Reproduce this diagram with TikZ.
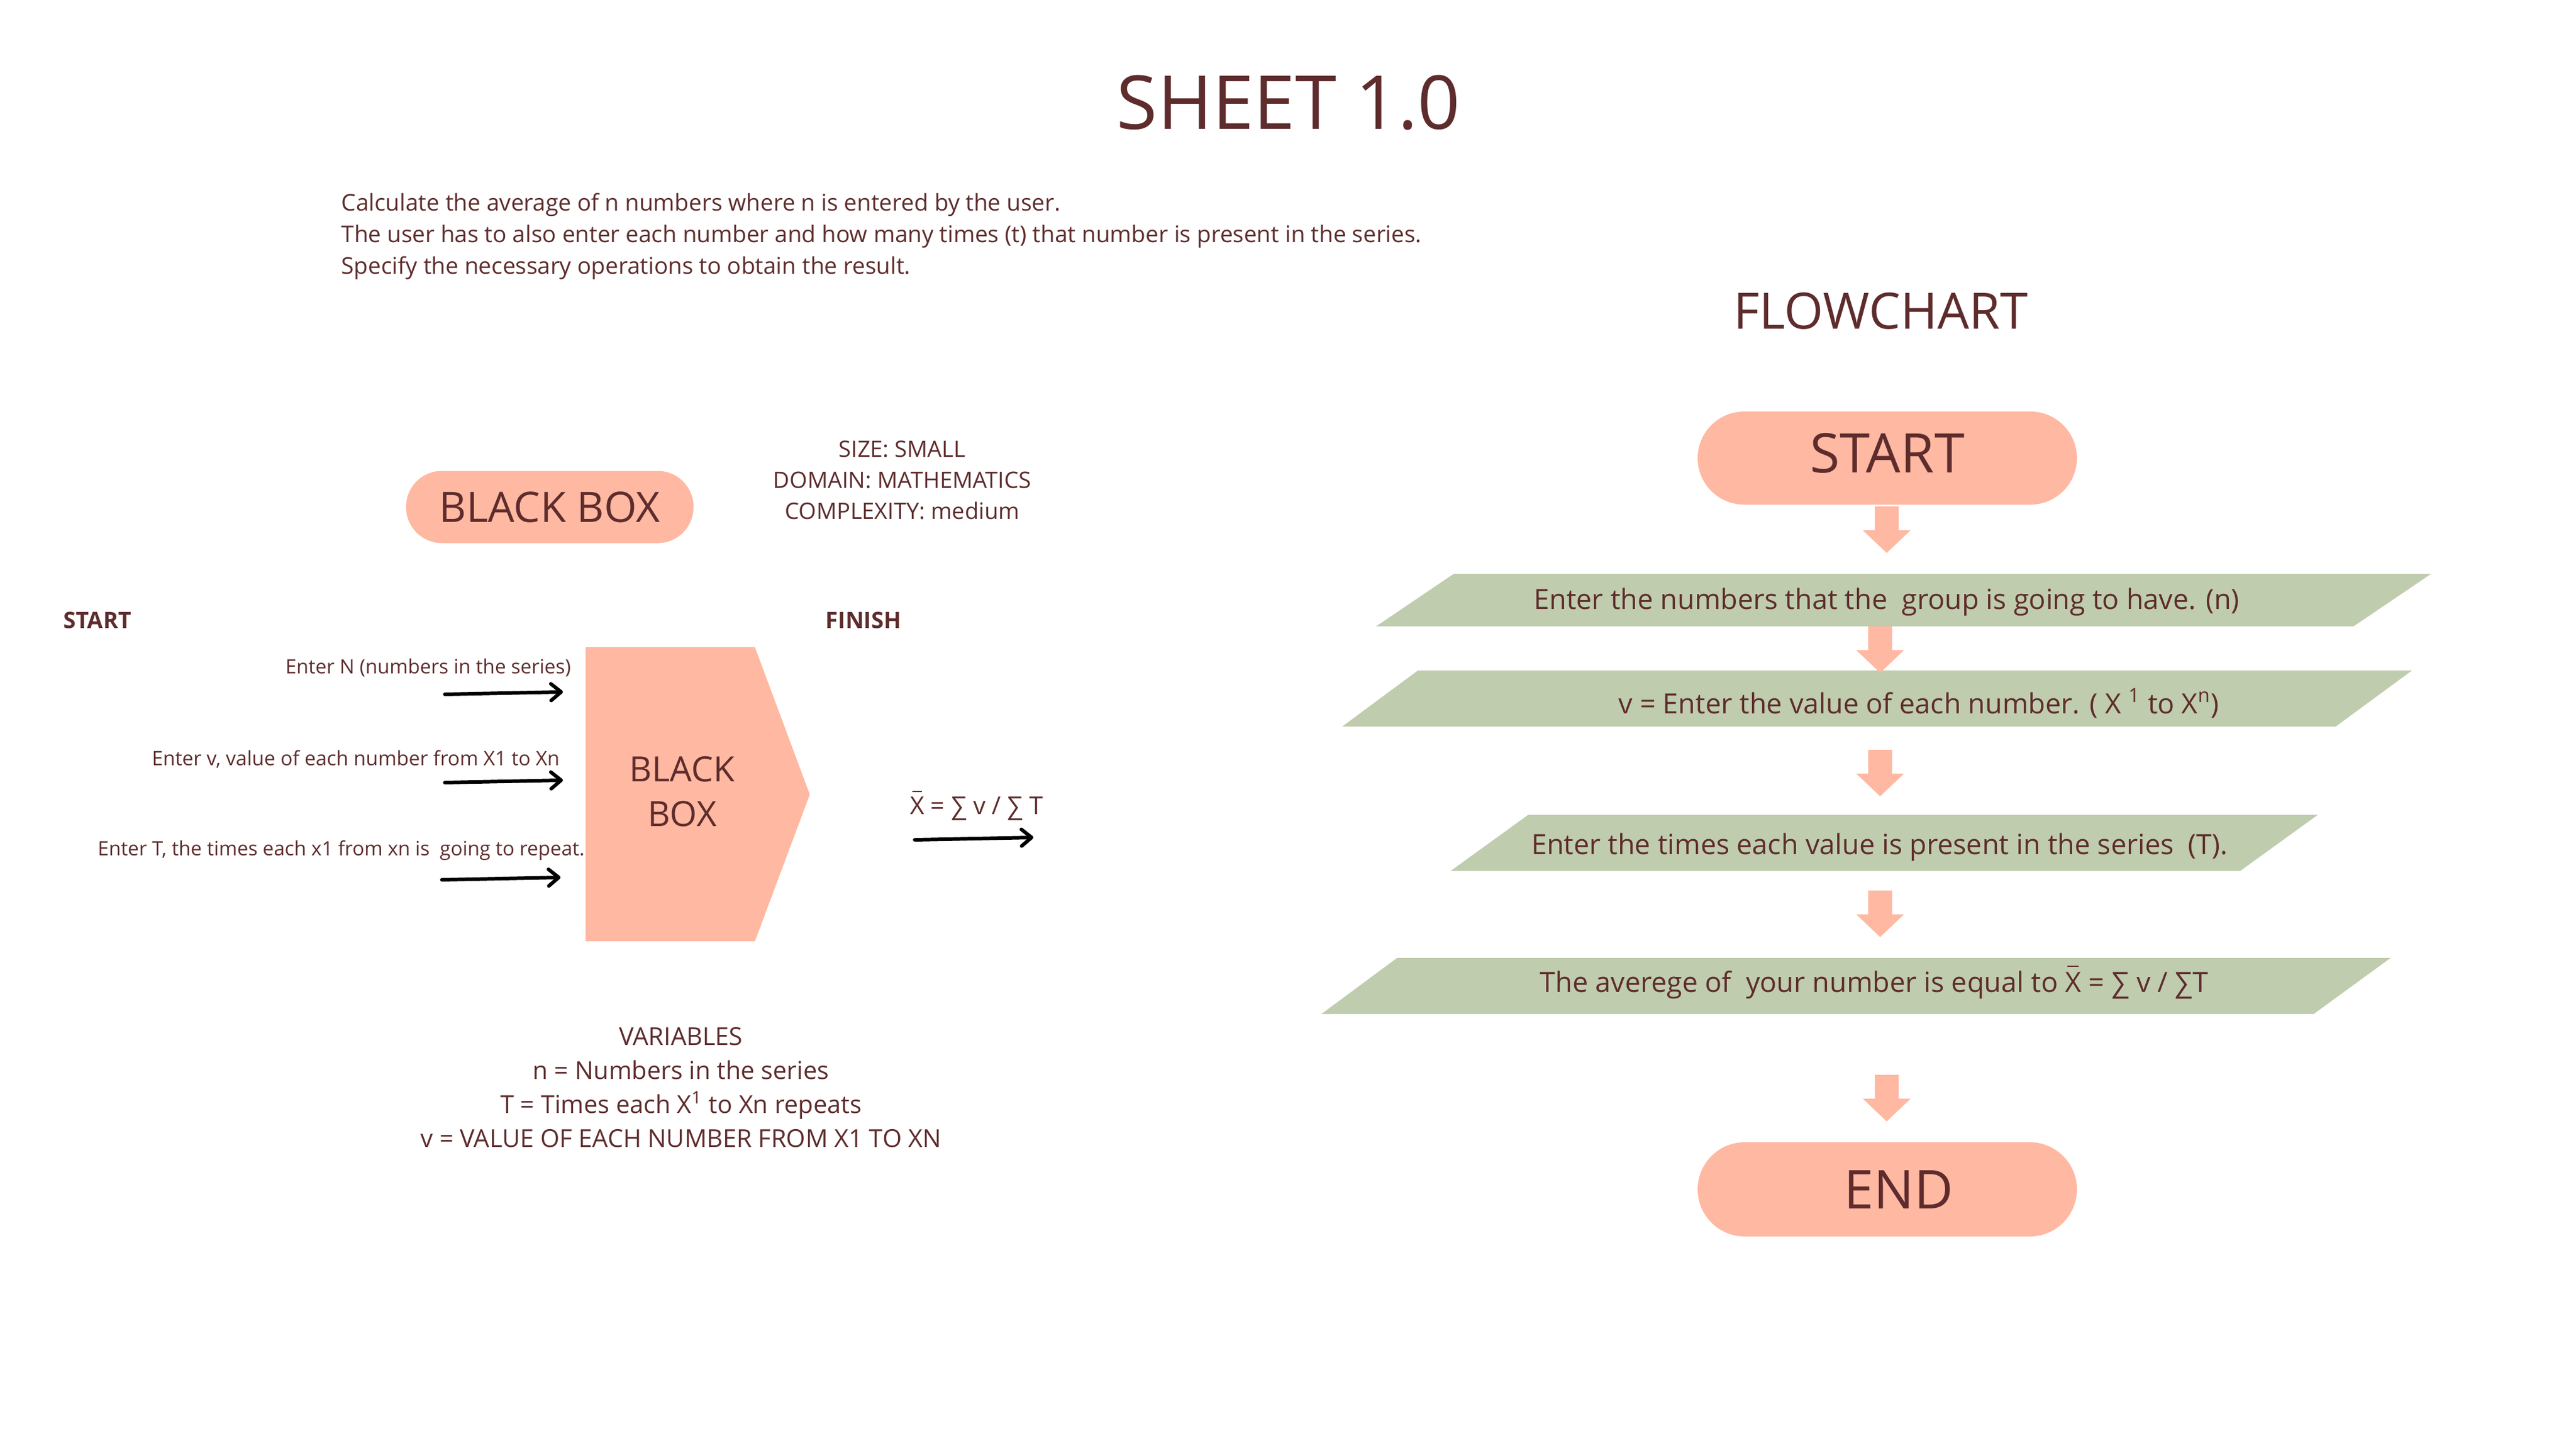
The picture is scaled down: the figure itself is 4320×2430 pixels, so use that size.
\documentclass[tikz,border=0pt]{standalone}
\usepackage{fontspec}
\setmainfont{Open Sans}
\definecolor{sheettext}{RGB}{94, 44, 44}
\definecolor{sheetsalmon}{RGB}{255, 184, 162}
\definecolor{sheetgreen}{RGB}{191, 204, 173}
\usetikzlibrary{arrows.meta,positioning}
\newcommand{\xbar}{\makebox[0pt][l]{\hspace{0.08em}\rule[0.9em]{0.4em}{0.05em}}X}

\tikzset{
    lbl/.style={text=sheettext, inner sep=0pt},
    pill/.style={fill=sheetsalmon, text=sheettext, inner sep=0pt},
    fatarrow/.pic={\fill[sheetsalmon] (-20,0) -- (20,0) -- (20,40) -- (40,40) -- (0,78) -- (-40,40) -- (-20,40) -- cycle;},
    inarrow/.style={-{Straight Barb[length=1.7mm,width=2.8mm,round]}, line width=1.7pt, line cap=round}
}

\begin{document}
\begin{tikzpicture}[x=0.1mm, y=-0.1mm]
    \fill[white] (0,0) rectangle (4320,2430);
    \useasboundingbox (0,0) rectangle (4320,2430);

    % title and task
    \node[lbl, anchor=base, font=\fontsize{35.5}{36}\selectfont] (title) at (2161,216) {SHEET 1.0};
    \foreach \line [count=\i] in {Calculate the average of n numbers where n is entered by the user.,
        The user has to also enter each number and how many times (t) that number is present in the series.,
        Specify the necessary operations to obtain the result.}
        \node[lbl, anchor=base west, font=\fontsize{11}{13}\selectfont] (task-\i) at (572,353+53*\i-53) {\line};

    % black box side
    \node[pill, minimum width=48.2mm, minimum height=12.1mm, rounded corners=6mm,
        font=\fontsize{20}{20}\selectfont] (bbtitle) at (922,850) {BLACK BOX};
    \foreach \line [count=\i] in {SIZE: SMALL, DOMAIN: MATHEMATICS, COMPLEXITY: medium}
        \node[lbl, anchor=base, font=\fontsize{10.8}{12}\selectfont] (info-\i) at (1513,766+52*\i-52) {\line};

    \node[lbl, anchor=base west, font=\fontsize{10.8}{12}\selectfont\bfseries] (bbstart) at (106,1053) {START};
    \node[lbl, anchor=base west, font=\fontsize{10.8}{12}\selectfont\bfseries] (bbfinish) at (1384,1053) {FINISH};

    \fill[sheetsalmon] (982,1085) -- (1266,1085) -- (1358,1332) -- (1266,1578) -- (982,1578) -- cycle;
    \node[lbl, align=center, font=\fontsize{16.6}{21.5}\selectfont] (bb) at (1144,1327) {BLACK\\BOX};

    \node[lbl, anchor=base east, font=\fontsize{9.4}{11}\selectfont] (in1) at (958,1129) {Enter N (numbers in the series)};
    \node[lbl, anchor=base east, font=\fontsize{9.5}{11}\selectfont] (in2) at (939,1283) {Enter v, value of each number from X1 to Xn};
    \node[lbl, anchor=base east, font=\fontsize{9.4}{11}\selectfont] (in3) at (981,1434) {Enter T, the times each x1 from xn is~ going to repeat.};
    \node[lbl, anchor=base, font=\fontsize{11.8}{12}\selectfont] (result) at (1638,1365) {\xbar{} = ∑ v / ∑ T};

    \coordinate (in1a) at (746,1164);  \coordinate (in1b) at (944,1160);
    \coordinate (in2a) at (746,1312);  \coordinate (in2b) at (944,1308);
    \coordinate (in3a) at (741,1475);  \coordinate (in3b) at (940,1471);
    \coordinate (outa) at (1534,1408); \coordinate (outb) at (1733,1404);
    \draw[inarrow] (in1a) -- (in1b);
    \draw[inarrow] (in2a) -- (in2b);
    \draw[inarrow] (in3a) -- (in3b);
    \draw[inarrow] (outa) -- (outb);

    \foreach \line [count=\i] in {VARIABLES, n = Numbers in the series,
        T = Times each X\textsuperscript{1} to Xn repeats, v = VALUE OF EACH NUMBER FROM X1 TO XN}
        \node[lbl, anchor=base, font=\fontsize{11.8}{13}\selectfont] (var-\i) at (1142,1752+57*\i-57) {\line};

    % flowchart side
    \node[lbl, anchor=base, font=\fontsize{23.9}{24}\selectfont] (fctitle) at (3154,551) {FLOWCHART};
    \node[pill, minimum width=63.6mm, minimum height=15.6mm, rounded corners=7.8mm] (start) at (3165,768) {};
    \node[lbl, font=\fontsize{26}{26}\selectfont] (starttext) at ([yshift=0.8mm]start.center) {START};

    \fill[sheetgreen] (2308,1050) -- (3947,1050) -- (4077,962) -- (2438,962) -- cycle;
    \fill[sheetgreen] (2251,1218) -- (3917,1218) -- (4045,1124) -- (2378,1124) -- cycle;
    \fill[sheetgreen] (2433,1460) -- (3757,1460) -- (3887,1366) -- (2563,1366) -- cycle;
    \fill[sheetgreen] (2216,1700) -- (3880,1700) -- (4009,1606) -- (2343,1606) -- cycle;

    \node[lbl, anchor=base, font=\fontsize{13.3}{14}\selectfont] (step1) at (3164,1021) {Enter the numbers that the~ group is going to have. (n)};
    \node[lbl, anchor=base, font=\fontsize{13.3}{14}\selectfont] (step2) at (3218,1196) {v = Enter the value of each number. ( X \textsuperscript{1} to X\textsuperscript{n})};
    \node[lbl, anchor=base, font=\fontsize{13.3}{14}\selectfont] (step3) at (3152,1432) {Enter the times each value is present in the series~ (T).};
    \node[lbl, anchor=base, font=\fontsize{13.3}{14}\selectfont] (step4) at (3143,1663) {The averege of~ your number is equal to \xbar{} = ∑ v / ∑T};

    \node[pill, minimum width=63.6mm, minimum height=15.8mm, rounded corners=7.9mm] (end) at (3165,1994) {};
    \node[lbl, font=\fontsize{25.5}{26}\selectfont] (endtext) at ([xshift=1.9mm]end.center) {END};

    \pic at (3164,849) {fatarrow};
    \pic at (3153,1050) {fatarrow};
    \pic at (3153,1257) {fatarrow};
    \pic at (3153,1493) {fatarrow};
    \pic at (3164,1802) {fatarrow};
\end{tikzpicture}
\end{document}
